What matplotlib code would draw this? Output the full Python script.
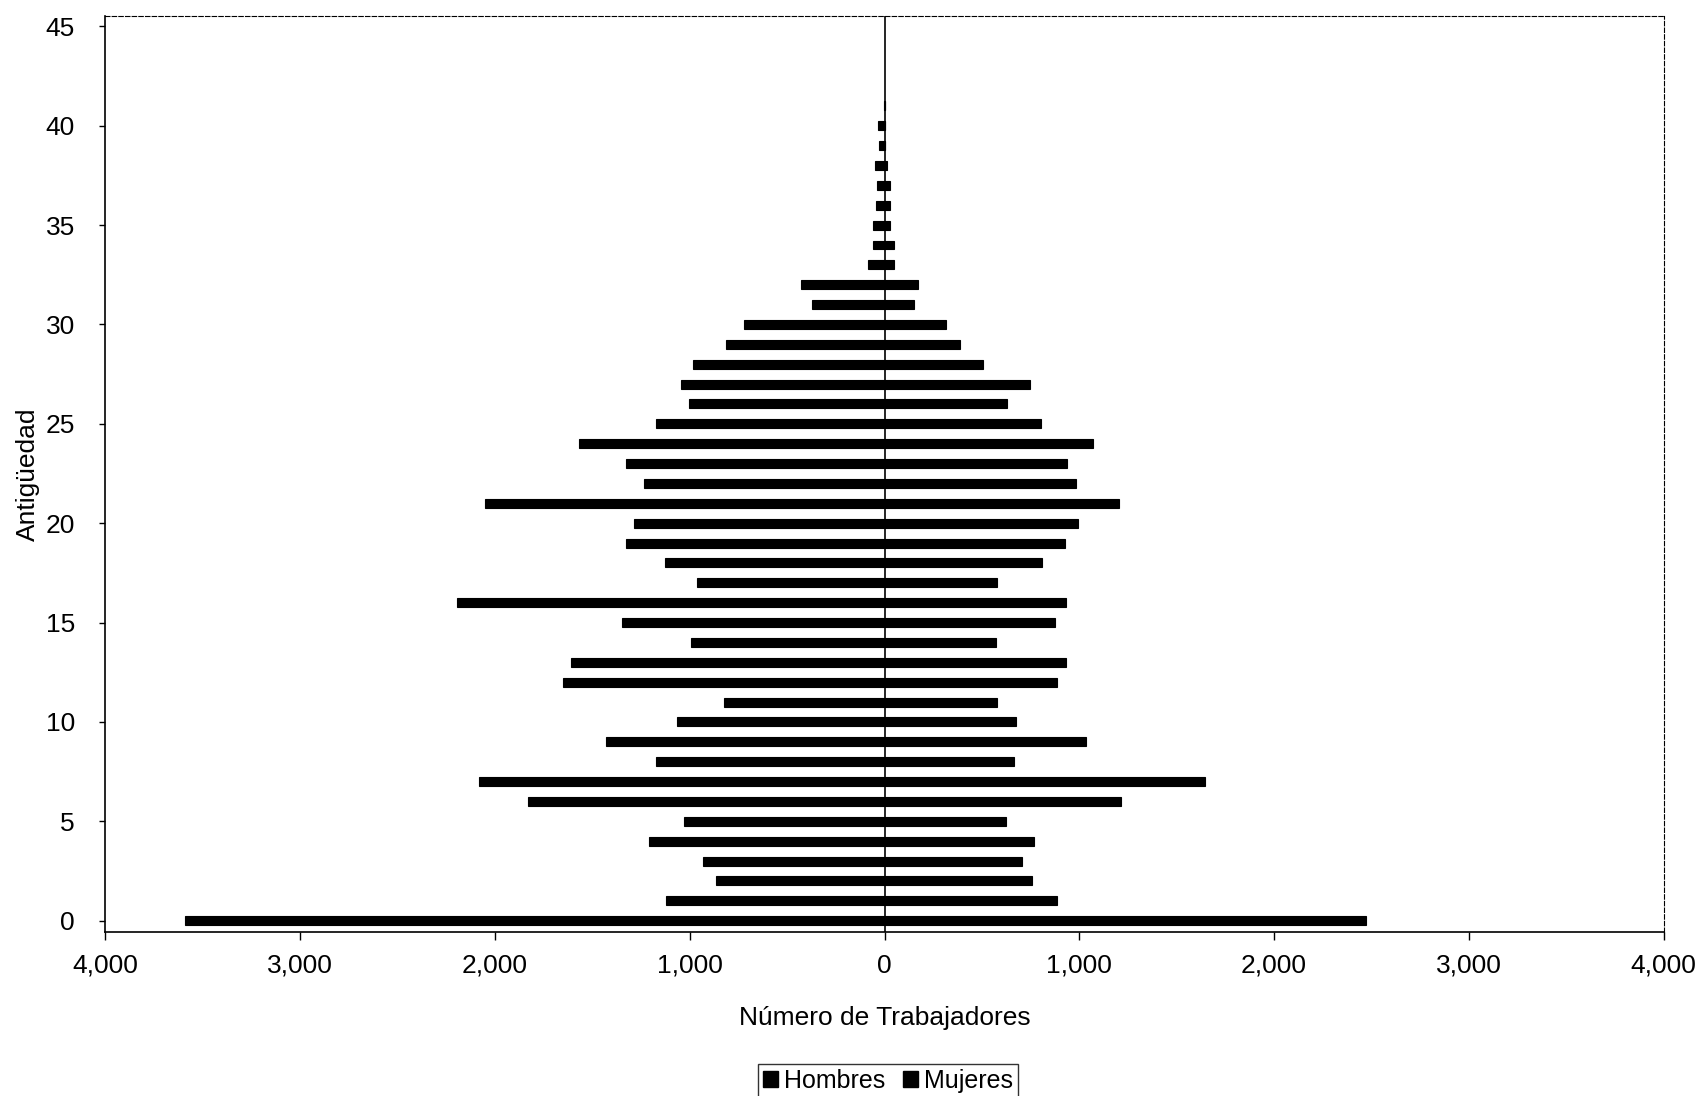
import numpy as np
import matplotlib.pyplot as plt
from matplotlib.patches import Patch
from matplotlib.ticker import FuncFormatter

plt.rcParams['font.family'] = ['Liberation Sans', 'DejaVu Sans']

# antigüedad (years) and number of workers per sex
antiguedad = list(range(0, 42))
hombres = [3590, 1120, 864, 930, 1209, 1031, 1833, 2084, 1175, 1432,
           1064, 824, 1649, 1610, 992, 1348, 2195, 964, 1125, 1326,
           1287, 2050, 1237, 1326, 1571, 1175, 1003, 1047, 981, 813,
           724, 373, 429, 87, 60, 60, 43, 38, 51, 26, 34, 5]
mujeres = [2473, 886, 758, 708, 769, 624, 1214, 1643, 663, 1036,
           674, 579, 886, 930, 574, 875, 930, 579, 808, 925,
           992, 1203, 981, 936, 1070, 802, 630, 747, 507, 390,
           318, 150, 173, 51, 48, 26, 26, 26, 14, 5, 3, 5]
series_names = ["Hombres", "Mujeres"]

fig = plt.figure(figsize=(17.01, 10.96), dpi=100)
ax = fig.add_axes([0.062, 0.150, 0.916, 0.835])

h = 0.45
ax.barh(antiguedad, [-v for v in hombres], height=h, color="black",
        edgecolor="black", linewidth=0.8)
ax.barh(antiguedad, mujeres, height=h, color="black",
        edgecolor="black", linewidth=0.8)

# vertical axis line at zero
ax.axvline(0, color="black", linewidth=1.2)

ax.set_xlim(-4000, 4000)
ax.set_ylim(-0.55, 45.5)
ax.set_xticks(np.arange(-4000, 4001, 1000))
ax.xaxis.set_major_formatter(FuncFormatter(lambda v, p: f"{abs(int(v)):,}"))
ax.set_yticks(np.arange(0, 46, 5))

ax.tick_params(axis="x", direction="out", length=6, width=1, labelsize=19, pad=10)
ax.tick_params(axis="y", direction="out", length=4, width=1, labelsize=19, pad=18)

for s in ["top", "right"]:
    ax.spines[s].set_linestyle((0, (4, 2)))
    ax.spines[s].set_linewidth(0.8)
for s in ["left", "bottom"]:
    ax.spines[s].set_linewidth(1.2)

ax.set_xlabel("Número de Trabajadores", fontsize=19, labelpad=20)
ax.set_ylabel("Antigüedad", fontsize=19, labelpad=4)

handles = [Patch(facecolor="black", edgecolor="black", hatch="++"),
           Patch(facecolor="black", edgecolor="black", hatch="xx")]
fig.legend(handles, series_names, loc="lower center", bbox_to_anchor=(0.522, -0.013),
           ncol=2, fontsize=18, frameon=True, fancybox=False, edgecolor="black",
           handlelength=0.6, handleheight=0.6, handletextpad=0.25, columnspacing=0.7,
           borderpad=0.2)

fig.savefig("out.png", dpi=100, facecolor="white")
